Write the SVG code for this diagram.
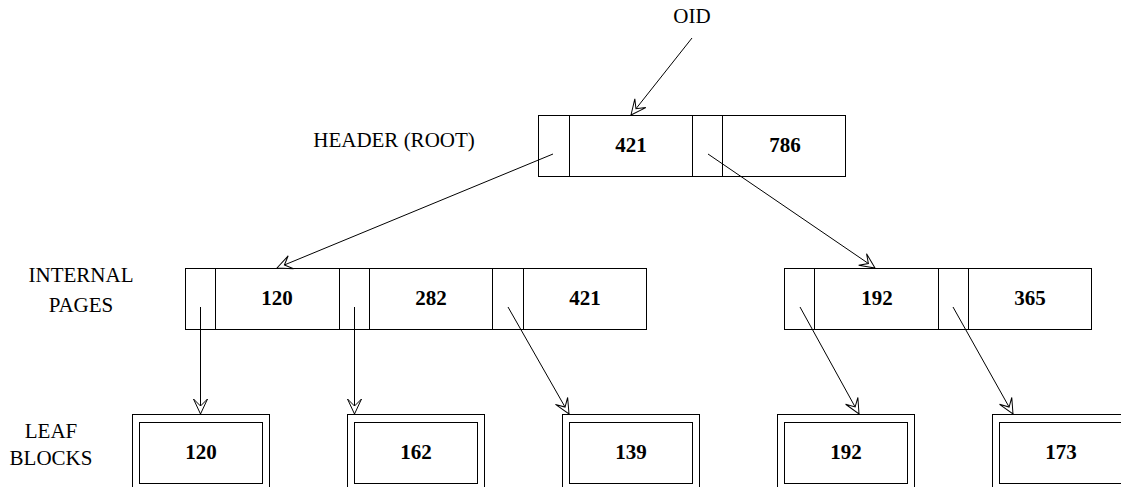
<svg xmlns="http://www.w3.org/2000/svg" width="1121" height="487" viewBox="0 0 1121 487">
<style>
.box{fill:#fff;stroke:#000;stroke-width:1}
.div{stroke:#000;stroke-width:1}
.num{font-family:"Liberation Serif",serif;font-weight:bold;font-size:21px;text-anchor:middle;fill:#000}
.lbl{font-family:"Liberation Serif",serif;font-size:21px;text-anchor:middle;fill:#000}
.conn{stroke:#000;stroke-width:1;fill:none;marker-end:url(#arr)}
</style>
<defs>
<marker id="arr" markerUnits="userSpaceOnUse" viewBox="-16 -8 17 16" markerWidth="17" markerHeight="16" refX="0" refY="0" orient="auto">
<path d="M0,0 L-15,-7 L-8,0 L-15,7 Z" fill="#fff" stroke="#000" stroke-width="1"/>
</marker>
</defs>
<rect width="1121" height="487" fill="#fff"/>
<g id="labels">
<text class="lbl" x="692" y="23" font-size="22">OID</text>
<text class="lbl" x="394" y="147" font-size="22">HEADER (ROOT)</text>
<text class="lbl" x="81" y="282">INTERNAL</text>
<text class="lbl" x="81" y="312">PAGES</text>
<text class="lbl" x="51" y="438">LEAF</text>
<text class="lbl" x="51" y="465">BLOCKS</text>
</g>
<g id="root">
<rect class="box" x="538.5" y="115.5" width="307" height="61"/>
<line class="div" x1="569.5" y1="115.5" x2="569.5" y2="176.5"/>
<line class="div" x1="692.5" y1="115.5" x2="692.5" y2="176.5"/>
<line class="div" x1="722.5" y1="115.5" x2="722.5" y2="176.5"/>
<text class="num" x="631" y="152">421</text>
<text class="num" x="785" y="152">786</text>
</g>
<g id="internal-left">
<rect class="box" x="185.5" y="268.5" width="461" height="61"/>
<line class="div" x1="215.5" y1="268.5" x2="215.5" y2="329.5"/>
<line class="div" x1="339.5" y1="268.5" x2="339.5" y2="329.5"/>
<line class="div" x1="369.5" y1="268.5" x2="369.5" y2="329.5"/>
<line class="div" x1="492.5" y1="268.5" x2="492.5" y2="329.5"/>
<line class="div" x1="523.5" y1="268.5" x2="523.5" y2="329.5"/>
<text class="num" x="277" y="305">120</text>
<text class="num" x="431" y="305">282</text>
<text class="num" x="585" y="305">421</text>
</g>
<g id="internal-right">
<rect class="box" x="784.5" y="268.5" width="307" height="61"/>
<line class="div" x1="814.5" y1="268.5" x2="814.5" y2="329.5"/>
<line class="div" x1="938.5" y1="268.5" x2="938.5" y2="329.5"/>
<line class="div" x1="968.5" y1="268.5" x2="968.5" y2="329.5"/>
<text class="num" x="877" y="305">192</text>
<text class="num" x="1030" y="305">365</text>
</g>
<g id="leaf-120">
<rect class="box" x="132.5" y="414.5" width="137" height="80"/>
<rect class="box" x="139.5" y="422.5" width="123" height="61"/>
<text class="num" x="201" y="459">120</text>
</g>
<g id="leaf-162">
<rect class="box" x="347.5" y="414.5" width="137" height="80"/>
<rect class="box" x="354.5" y="422.5" width="123" height="61"/>
<text class="num" x="416" y="459">162</text>
</g>
<g id="leaf-139">
<rect class="box" x="562.5" y="414.5" width="137" height="80"/>
<rect class="box" x="569.5" y="422.5" width="123" height="61"/>
<text class="num" x="631" y="459">139</text>
</g>
<g id="leaf-192">
<rect class="box" x="777.5" y="414.5" width="137" height="80"/>
<rect class="box" x="784.5" y="422.5" width="123" height="61"/>
<text class="num" x="846" y="459">192</text>
</g>
<g id="leaf-173">
<rect class="box" x="992.5" y="414.5" width="137" height="80"/>
<rect class="box" x="999.5" y="422.5" width="123" height="61"/>
<text class="num" x="1061" y="459">173</text>
</g>
<g id="connectors">
<line class="conn" x1="692" y1="38" x2="631" y2="115"/>
<line class="conn" x1="553" y1="154" x2="277" y2="268"/>
<line class="conn" x1="708" y1="154" x2="875" y2="268"/>
<line class="conn" x1="200.5" y1="307" x2="200.5" y2="414"/>
<line class="conn" x1="354.5" y1="307" x2="354.5" y2="414"/>
<line class="conn" x1="508" y1="307" x2="569" y2="414"/>
<line class="conn" x1="800" y1="307" x2="859" y2="414"/>
<line class="conn" x1="953" y1="307" x2="1013" y2="414"/>
</g>
</svg>
